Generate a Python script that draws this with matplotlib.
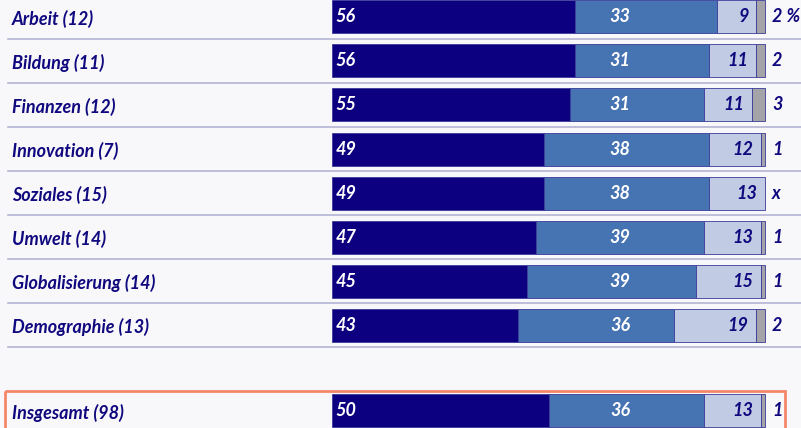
import matplotlib

matplotlib.use("Agg")
import matplotlib.pyplot as plt
from matplotlib.patches import Rectangle

BG = "#f8f8fa"
INK = "#10087e"
DARK = "#0c0080"
MID = "#4673b2"
LIGHT = "#c1cbe3"
GRAY = "#a4a4a8"
RULE = "#b4b4d4"
BOX = "#f4876a"

categories = ["Arbeit (12)", "Bildung (11)", "Finanzen (12)", "Innovation (7)",
              "Soziales (15)", "Umwelt (14)", "Globalisierung (14)",
              "Demographie (13)", "Insgesamt (98)"]
very = [56, 56, 55, 49, 49, 47, 45, 43, 50]
rather = [33, 31, 31, 38, 38, 39, 39, 36, 36]
less = [9, 11, 11, 12, 13, 13, 15, 19, 13]
none = [2, 2, 3, 1, 0, 1, 1, 2, 1]
none_labels = ["2 %", "2", "3", "1", "x", "1", "1", "2", "1"]

ypos = [0, 1, 2, 3, 4, 5, 6, 7, 8.95]

plt.rcParams["font.family"] = ["Lato", "DejaVu Sans"]
fig = plt.figure(figsize=(8.01, 4.28), dpi=100, facecolor=BG)
ax = fig.add_axes([0, 0, 1, 1])
ax.set_facecolor(BG)
ax.set_xlim(-76.7, 108.3)
ax.set_ylim(9.34, -0.386)
ax.axis("off")

H = 0.75
tfont = dict(fontsize=13, fontweight="bold", fontstyle="italic")
for i, y in enumerate(ypos):
    left = 0
    for val, col in ((very[i], DARK), (rather[i], MID), (less[i], LIGHT), (none[i], GRAY)):
        if val:
            ax.barh(y, val, left=left, height=H, color=col, edgecolor="#3a3a9a",
                    linewidth=0.6, zorder=3)
        left += val
    ax.text(0.8, y, str(very[i]), color="white", ha="left", va="center", zorder=4, **tfont)
    # middle values sit in one column, not at segment centres
    ax.text(66.5, y, str(rather[i]), color="white", ha="center",
            va="center", zorder=4, **tfont)
    ax.text(very[i] + rather[i] + less[i] - 1.8, y, str(less[i]), color=INK, ha="right",
            va="center", zorder=4, **tfont)
    ax.text(101.6, y, none_labels[i], color=INK, ha="left", va="center", zorder=4, **tfont)
    ax.text(-73.9, y + 0.04, categories[i], color=INK, ha="left", va="center", fontsize=13,
            fontweight="bold", fontstyle="italic")
    if i < 8:
        ax.plot([-74.8, 108.3], [y + 0.5, y + 0.5], color=RULE, linewidth=1.2, zorder=1)

ax.add_patch(Rectangle((-75.5, 8.5), 180.1, 1.5, fill=False, edgecolor=BOX,
                       linewidth=2, zorder=5, clip_on=False))

fig.savefig("out.png", dpi=100, facecolor=BG)
